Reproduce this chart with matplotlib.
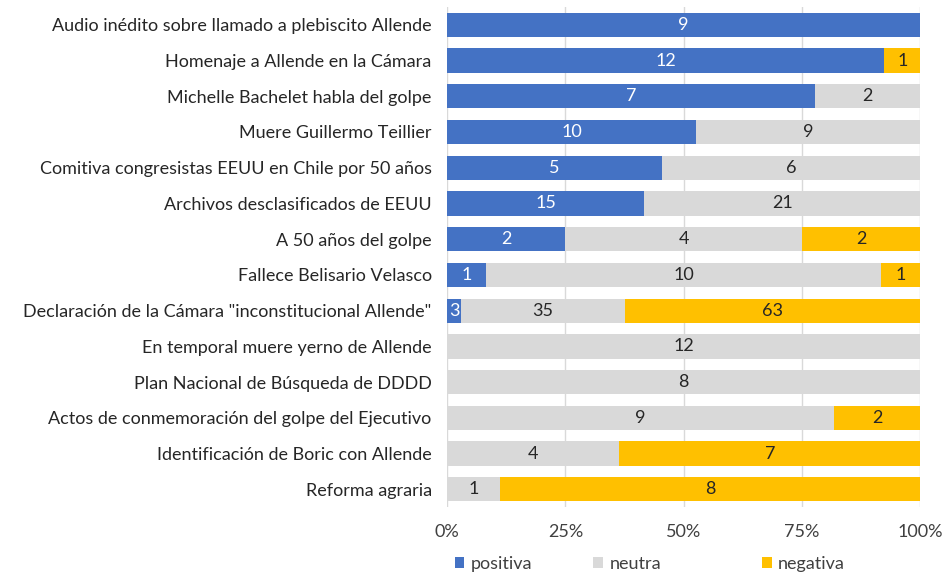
import numpy as np
import matplotlib.pyplot as plt
from matplotlib.ticker import PercentFormatter

plt.rcParams['font.family'] = ['Lato', 'DejaVu Sans']

categorias = [
    'Audio inédito sobre llamado a plebiscito Allende',
    'Homenaje a Allende en la Cámara',
    'Michelle Bachelet habla del golpe',
    'Muere Guillermo Teillier',
    'Comitiva congresistas EEUU en Chile por 50 años',
    'Archivos desclasificados de EEUU',
    'A 50 años del golpe',
    'Fallece Belisario Velasco',
    'Declaración de la Cámara "inconstitucional Allende"',
    'En temporal muere yerno de Allende',
    'Plan Nacional de Búsqueda de DDDD',
    'Actos de conmemoración del golpe del Ejecutivo',
    'Identificación de Boric con Allende',
    'Reforma agraria',
]
positiva = [9, 12, 7, 10, 5, 15, 2, 1, 3, 0, 0, 0, 0, 0]
neutra = [0, 0, 2, 9, 6, 21, 4, 10, 35, 12, 8, 9, 4, 1]
negativa = [0, 1, 0, 0, 0, 0, 2, 1, 63, 0, 0, 2, 7, 8]

series = [('positiva', positiva, '#4472C4', 'white'),
          ('neutra', neutra, '#D9D9D9', '#262626'),
          ('negativa', negativa, '#FFC000', '#262626')]
# legend entry left edges (figure fraction), Excel spreads them unevenly
leg_x = [0.481, 0.628, 0.806]

fs = 13
tot = np.array(positiva) + np.array(neutra) + np.array(negativa)
y = np.arange(len(categorias))

fig = plt.figure(figsize=(9.45, 5.77), dpi=100)
ax = fig.add_axes([0.473, 0.121, 0.501, 0.867])

left = np.zeros(len(categorias))
handles = []
for nombre, vals, color, tcolor in series:
    vals = np.array(vals)
    frac = vals / tot
    b = ax.barh(y, frac, left=left, height=0.68, color=color, label=nombre, zorder=2)
    handles.append(b)
    for yi, v, f, l in zip(y, vals, frac, left):
        if v > 0:
            ax.text(l + f / 2, yi, str(v), ha='center', va='center',
                    color=tcolor, fontsize=fs, zorder=3)
    left += frac

ax.set_xlim(0, 1)
ax.set_ylim(len(categorias) - 0.5, -0.5)
ax.set_yticks(y)
ax.set_yticklabels(categorias, fontsize=fs, color='#262626')
ax.set_xticks([0, 0.25, 0.5, 0.75, 1.0])
ax.xaxis.set_major_formatter(PercentFormatter(1.0, decimals=0))
ax.tick_params(axis='x', labelsize=fs, labelcolor='#404040', length=0, pad=12)
ax.tick_params(axis='y', length=0, pad=11)
ax.grid(axis='x', color='#D9D9D9', linewidth=1, zorder=0)
for s in ax.spines.values():
    s.set_visible(False)

for h, (nombre, _, _, _), lx in zip(handles, series, leg_x):
    fig.legend([h], [nombre], loc='center left', bbox_to_anchor=(lx, 0.022),
               frameon=False, fontsize=fs, handlelength=0.55, handleheight=0.55,
               handletextpad=0.35, borderaxespad=0, borderpad=0,
               labelcolor='#404040')

fig.savefig('out.png', dpi=100)
